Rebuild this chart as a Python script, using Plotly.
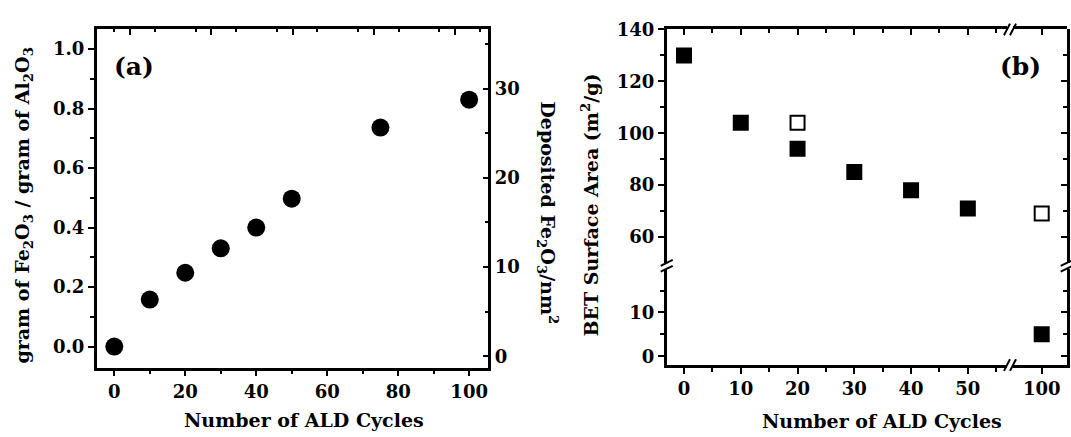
import plotly.graph_objects as go

# ---------------- data ----------------
# panel (a)
ald_cycles_a = [0, 10, 20, 30, 40, 50, 75, 100]
fe_per_al_gram = [0.0, 0.158, 0.248, 0.330, 0.400, 0.497, 0.736, 0.830]

# panel (b)
bet_cycles = [0, 10, 20, 30, 40, 50, 100]
bet_area = [130, 104, 94, 85, 78, 71, 5]
bet_open_cycles = [20, 100]
bet_open_area = [104, 69]

a_x_ticks = [0, 20, 40, 60, 80, 100]
a_y_ticks = [0.0, 0.2, 0.4, 0.6, 0.8, 1.0]
a_y2_ticks = [0, 10, 20, 30]
b_x_ticks_left = [0, 10, 20, 30, 40, 50]
b_x_ticks_right = [100]
b_y_ticks_up = [60, 80, 100, 120, 140]
b_y_ticks_low = [0, 10]

# ---------------- layout helpers ----------------
W, H = 1071, 437
def px(x):
    return x / W
def py(y):
    return 1 - y / H

FONT = "DejaVu Serif"
TICKFONT = dict(family=FONT, size=18, color="black", weight="bold")
LW = 2.5

def axis(**kw):
    base = dict(showgrid=False, zeroline=False, showline=True, linecolor="black",
                linewidth=LW, ticks="outside", ticklen=6, tickwidth=2, tickcolor="black",
                tickfont=TICKFONT, fixedrange=True)
    base.update(kw)
    return base

def minor(dtick=None, tickvals=None, ticks="outside", ticklen=4):
    m = dict(ticks=ticks, ticklen=ticklen, tickwidth=2, tickcolor="black", showgrid=False)
    if dtick is not None:
        m["dtick"] = dtick
    if tickvals is not None:
        m["tickvals"] = tickvals
    return m

xa_dom = [px(96.7), px(488.3)]
ya_dom = [py(366.7), py(19)]
xb_left_dom = [px(666.7), px(1007)]
xb_right_dom = [px(1013), px(1066.7)]
yb_up_dom = [py(259), py(19)]
yb_low_dom = [py(364), py(265)]

xa_range = [-4.96, 105.4]
ya_range = [-0.071, 1.066]
ya2_range = [-1.28, 36.65]
xb_left_range = [-3.05, 56.9]
xb_right_range = [94.95, 104.4]
yb_up_range = [50.0, 140.0]
yb_low_range = [-2.0, 20.0]

fig = go.Figure()

# panel (a)
fig.add_trace(go.Scatter(x=ald_cycles_a, y=fe_per_al_gram, mode="markers",
                         marker=dict(symbol="circle", size=18, color="black"),
                         xaxis="x", yaxis="y", showlegend=False))
fig.add_trace(go.Scatter(x=[], y=[], xaxis="x", yaxis="y2", showlegend=False))
fig.add_trace(go.Scatter(x=[], y=[], xaxis="x3", yaxis="y", showlegend=False))

# panel (b): route points to broken-axis segments
def seg(xv, yv):
    xa = "x4" if xv < 75 else "x5"
    if yv >= 40:
        ya = "y5" if xa == "x4" else "y7"
    else:
        ya = "y4" if xa == "x4" else "y6"
    return xa, ya

groups = {}
for xv, yv in zip(bet_cycles, bet_area):
    groups.setdefault(seg(xv, yv), []).append((xv, yv))
for (xa, ya), pts in groups.items():
    fig.add_trace(go.Scatter(x=[p[0] for p in pts], y=[p[1] for p in pts], mode="markers",
                             marker=dict(symbol="square", size=16, color="black"),
                             xaxis=xa, yaxis=ya, showlegend=False))
groups = {}
for xv, yv in zip(bet_open_cycles, bet_open_area):
    groups.setdefault(seg(xv, yv), []).append((xv, yv))
for (xa, ya), pts in groups.items():
    fig.add_trace(go.Scatter(x=[p[0] for p in pts], y=[p[1] for p in pts], mode="markers",
                             marker=dict(symbol="square-open", size=14, color="black",
                                         line=dict(width=2, color="black")),
                             xaxis=xa, yaxis=ya, showlegend=False))
# ensure all axis pairs exist
for xa, ya in [("x4", "y4"), ("x6", "y5"), ("x7", "y5"), ("x5", "y6"), ("x5", "y7")]:
    fig.add_trace(go.Scatter(x=[], y=[], xaxis=xa, yaxis=ya, showlegend=False))

fig.update_layout(
    width=W, height=H, margin=dict(l=0, r=0, t=0, b=0),
    paper_bgcolor="white", plot_bgcolor="rgba(0,0,0,0)",
    showlegend=False,
    # panel (a)
    xaxis=axis(domain=xa_dom, range=xa_range, anchor="y", side="bottom",
               tickvals=a_x_ticks, minor=minor(dtick=10)),
    xaxis3=axis(overlaying="x", anchor="y", side="top", range=xa_range,
                ticks="inside", showticklabels=False, tick0=4.43, dtick=22.9,
                minor=minor(dtick=11.45, ticks="inside", ticklen=3)),
    yaxis=axis(domain=ya_dom, range=ya_range, anchor="x", side="left",
               tickvals=a_y_ticks, ticktext=[f"{v:.1f}" for v in a_y_ticks],
               minor=minor(dtick=0.1)),
    yaxis2=axis(overlaying="y", anchor="x", side="right", range=ya2_range,
                ticks="inside", tickvals=a_y2_ticks, minor=minor(dtick=5, ticks="inside")),
    # panel (b)
    xaxis4=axis(domain=xb_left_dom, range=xb_left_range, anchor="y4", side="bottom",
                tickvals=b_x_ticks_left, minor=minor(dtick=5)),
    xaxis5=axis(domain=xb_right_dom, range=xb_right_range, anchor="y4", side="bottom",
                tickvals=b_x_ticks_right),
    xaxis6=axis(domain=xb_left_dom, range=xb_left_range, anchor="y5", side="top",
                ticks="inside", showticklabels=False, tickvals=b_x_ticks_left,
                minor=minor(dtick=5, ticks="inside")),
    xaxis7=axis(domain=xb_right_dom, range=xb_right_range, anchor="y5", side="top",
                ticks="inside", showticklabels=False, tickvals=b_x_ticks_right),
    yaxis5=axis(domain=yb_up_dom, range=yb_up_range, anchor="x4", side="left",
                tickvals=b_y_ticks_up, minor=minor(tickvals=[70, 90, 110, 130])),
    yaxis4=axis(domain=yb_low_dom, range=yb_low_range, anchor="x4", side="left",
                tickvals=b_y_ticks_low, minor=minor(tickvals=[5, 15])),
    yaxis7=axis(domain=yb_up_dom, range=yb_up_range, anchor="x5", side="right",
                ticks="inside", showticklabels=False, tickvals=b_y_ticks_up,
                minor=minor(tickvals=[70, 90, 110, 130], ticks="inside")),
    yaxis6=axis(domain=yb_low_dom, range=yb_low_range, anchor="x5", side="right",
                ticks="inside", showticklabels=False, tickvals=b_y_ticks_low,
                minor=minor(tickvals=[5, 15], ticks="inside")),
)

TITLEFONT = dict(family=FONT, size=19, color="black", weight="bold")
ann = [
    dict(text="Number of ALD Cycles", x=px(304), y=py(421)),
    dict(text="Number of ALD Cycles", x=px(882), y=py(422)),
    dict(text="gram of Fe<sub>2</sub>O<sub>3</sub> / gram of Al<sub>2</sub>O<sub>3</sub>",
         x=px(24), y=py(200), textangle=-90),
    dict(text="Deposited Fe<sub>2</sub>O<sub>3</sub>/nm<sup>2</sup>",
         x=px(548), y=py(207), textangle=90),
    dict(text="BET Surface Area (m<sup>2</sup>/g)", x=px(590), y=py(200), textangle=-90),
]
for a in ann:
    fig.add_annotation(xref="paper", yref="paper", showarrow=False, font=TITLEFONT,
                       xanchor="center", yanchor="middle", **a)
for label, cx in [("(a)", 134), ("(b)", 1020)]:
    fig.add_annotation(xref="paper", yref="paper", showarrow=False, text=label,
                       x=px(cx), y=py(57), xanchor="center", yanchor="middle",
                       font=dict(family=FONT, size=25, color="black", weight="bold"))

# axis break marks (decoration)
shapes = []
def brk(x0, y0, x1, y1):
    # white gap cover then a slanted line
    shapes.append(dict(type="line", xref="paper", yref="paper",
                       x0=px(x0), y0=py(y0), x1=px(x1), y1=py(y1),
                       line=dict(color="black", width=2)))
# y-axis breaks (left and right of panel b)
for xc in (666.7, 1066.7):
    for yc in (259, 265):
        brk(xc - 6, yc + 3, xc + 6, yc - 3)
# x-axis breaks (bottom and top of panel b)
for yc in (364, 19):
    for xc in (1007, 1013):
        brk(xc - 3, yc + 6, xc + 3, yc - 6)
fig.update_layout(shapes=shapes)

fig.write_html("out.html")
